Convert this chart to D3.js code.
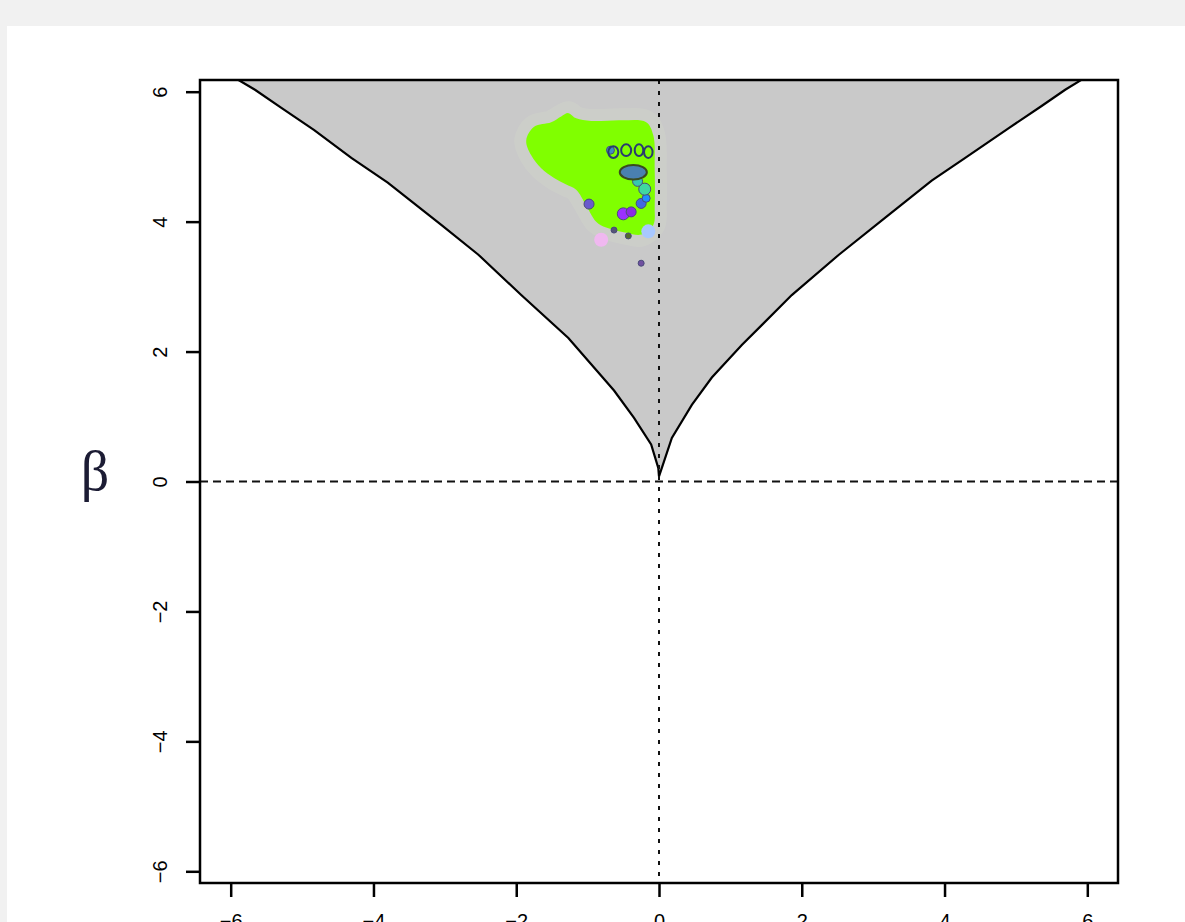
<!DOCTYPE html>
<html>
<head>
<meta charset="utf-8">
<script src="https://cdn.jsdelivr.net/npm/d3@7"></script>
<style>
  body { margin: 0; background: #f1f1f1; }
  svg { display: block; }
</style>
</head>
<body>
<div id="chart"></div>
<script>
// boundary curve of the admissible region (alpha, beta)
const curveAlpha = [-6.2, -5.89, -5.66, -5.29, -4.83, -4.31, -3.80, -3.05, -2.53, -1.93, -1.27, -0.63, -0.35, -0.11, -0.01, 0,
                    0.04, 0.18, 0.46, 0.74, 1.16, 1.86, 2.52, 3.17, 3.82, 4.29, 4.90, 5.36, 5.69, 5.90, 6.2];
const curveBeta  = [6.4, 6.18, 6.03, 5.75, 5.41, 4.98, 4.60, 3.95, 3.49, 2.87, 2.21, 1.40, 0.98, 0.57, 0.21, 0.08,
                    0.21, 0.67, 1.18, 1.60, 2.10, 2.87, 3.49, 4.06, 4.63, 4.98, 5.44, 5.78, 6.03, 6.17, 6.4];

// outline of the dense green sample cloud
const blobAlpha = [-1.75, -1.51, -1.37, -1.27, -1.16, -0.95, -0.53, -0.18, -0.08, -0.06, -0.06, -0.08, -0.25, -0.46, -0.74, -0.88, -1.02, -1.16, -1.30, -1.47, -1.65, -1.79, -1.86];
const blobBeta  = [5.46, 5.53, 5.62, 5.67, 5.59, 5.55, 5.56, 5.53, 5.33, 4.79, 4.25, 3.95, 3.80, 3.83, 3.91, 4.00, 4.25, 4.49, 4.57, 4.67, 4.82, 5.02, 5.25];

// individual coloured samples
const ptAlpha = [-0.98, -0.50, -0.39, -0.25, -0.18, -0.63, -0.43, -0.15, -0.81, -0.25, -0.68, -0.20, -0.30];
const ptBeta  = [4.27, 4.12, 4.15, 4.28, 4.36, 3.87, 3.78, 3.85, 3.72, 3.36, 5.10, 4.50, 4.62];
const ptColor = ["#6a5acd", "#9b30ff", "#8a2be2", "#4169e1", "#1e90ff", "#555577", "#556b2f", "#a8c8ff", "#f0b8f0", "#7050a0", "#3f8fbf", "#40d8a0", "#38c8b0"];
const ptSize  = [5, 6, 5, 5, 4, 3, 3, 7, 7, 3, 4, 6, 5];

// small contour rings
const ringAlpha = [-0.36, -0.64, -0.46, -0.28, -0.15];
const ringBeta  = [4.76, 5.07, 5.10, 5.10, 5.07];
const ringRx    = [0.19, 0.07, 0.07, 0.06, 0.06];
const ringRy    = [0.11, 0.09, 0.09, 0.09, 0.09];

const xTicks = [-6, -4, -2, 0, 2, 4, 6];
const yTicks = [-6, -4, -2, 0, 2, 4, 6];

const width = 1185, height = 922;
const plot = { left: 200, right: 1118, top: 80, bottom: 883 };

const x = d3.scaleLinear().domain([-6.43, 6.43]).range([plot.left, plot.right]);
const y = d3.scaleLinear().domain([-6.18, 6.18]).range([plot.bottom, plot.top]);

const svg = d3.select("#chart").append("svg")
    .attr("width", width)
    .attr("height", height);

svg.append("rect")
    .attr("x", 7).attr("y", 26)
    .attr("width", width - 7).attr("height", height - 26)
    .attr("fill", "#fff");

svg.append("clipPath").attr("id", "clip")
  .append("rect")
    .attr("x", plot.left).attr("y", plot.top)
    .attr("width", plot.right - plot.left).attr("height", plot.bottom - plot.top);

const g = svg.append("g").attr("clip-path", "url(#clip)");

const curve = curveAlpha.map((a, i) => ({ a, b: curveBeta[i] }));

// grey region above the boundary
g.append("path")
    .datum(curve)
    .attr("fill", "#c9c9c9")
    .attr("d", d3.area().x(d => x(d.a)).y0(y(6.4)).y1(d => y(d.b)));

// faint halo round the cloud
const blob = blobAlpha.map((a, i) => [x(a), y(blobBeta[i])]);
g.append("path")
    .datum(blob)
    .attr("fill", "#d6dccb")
    .attr("stroke", "#d6dccb")
    .attr("stroke-width", 24)
    .attr("stroke-linejoin", "round")
    .attr("opacity", 0.3)
    .attr("d", d3.line().curve(d3.curveCatmullRomClosed));

g.append("path")
    .datum(blob)
    .attr("fill", "#80ff00")
    .attr("d", d3.line().curve(d3.curveCatmullRomClosed));

// coloured samples
g.append("g")
  .selectAll("circle")
  .data(ptAlpha.map((a, i) => ({ a, b: ptBeta[i], c: ptColor[i], r: ptSize[i] })))
  .join("circle")
    .attr("cx", d => x(d.a))
    .attr("cy", d => y(d.b))
    .attr("r", d => d.r)
    .attr("fill", d => d.c)
    .attr("stroke", d => d.r <= 6 ? "#4a4a7a" : "none")
    .attr("stroke-width", 1);

// contour rings
g.append("g")
  .selectAll("ellipse")
  .data(ringAlpha.map((a, i) => ({ a, b: ringBeta[i], rx: ringRx[i], ry: ringRy[i] })))
  .join("ellipse")
    .attr("cx", d => x(d.a))
    .attr("cy", d => y(d.b))
    .attr("rx", d => x(d.rx) - x(0))
    .attr("ry", d => y(0) - y(d.ry))
    .attr("fill", (d, i) => i === 0 ? "#4a80b0" : "none")
    .attr("stroke", (d, i) => i === 0 ? "#3a4a20" : "#2a3a70")
    .attr("stroke-width", 2);

// boundary line
g.append("path")
    .datum(curve)
    .attr("fill", "none")
    .attr("stroke", "#000")
    .attr("stroke-width", 2.2)
    .attr("d", d3.line().x(d => x(d.a)).y(d => y(d.b)));

// reference lines
g.append("line")
    .attr("x1", plot.left).attr("x2", plot.right)
    .attr("y1", y(0)).attr("y2", y(0))
    .attr("stroke", "#111").attr("stroke-width", 2)
    .attr("stroke-dasharray", "8,5");
g.append("line")
    .attr("x1", x(0)).attr("x2", x(0))
    .attr("y1", plot.top).attr("y2", plot.bottom)
    .attr("stroke", "#111").attr("stroke-width", 2)
    .attr("stroke-dasharray", "4,7");

// box
svg.append("rect")
    .attr("x", plot.left).attr("y", plot.top)
    .attr("width", plot.right - plot.left).attr("height", plot.bottom - plot.top)
    .attr("fill", "none").attr("stroke", "#000").attr("stroke-width", 2.5);

// axes
const yAxis = svg.append("g")
    .attr("transform", `translate(${plot.left},0)`)
    .call(d3.axisLeft(y).tickValues(yTicks).tickSize(14).tickPadding(0).tickFormat(d3.format("d")))
    .call(g => g.select(".domain").remove());
yAxis.selectAll(".tick line").attr("stroke", "#000").attr("stroke-width", 2.5);
yAxis.selectAll(".tick text")
    .attr("x", null).attr("dy", null)
    .attr("transform", "translate(-40,0) rotate(-90)")
    .attr("text-anchor", "middle")
    .attr("dominant-baseline", "central")
    .attr("font-family", "Liberation Sans, Arial, sans-serif")
    .attr("font-size", 20)
    .attr("fill", "#000");

const xAxis = svg.append("g")
    .attr("transform", `translate(0,${plot.bottom})`)
    .call(d3.axisBottom(x).tickValues(xTicks).tickSize(14).tickFormat(d3.format("d")))
    .call(g => g.select(".domain").remove());
xAxis.selectAll(".tick line").attr("stroke", "#000").attr("stroke-width", 2.5);
xAxis.selectAll(".tick text")
    .attr("y", 31).attr("dy", null)
    .attr("dominant-baseline", "hanging")
    .attr("font-family", "Liberation Sans, Arial, sans-serif")
    .attr("font-size", 20)
    .attr("fill", "#000");

// axis title
svg.append("text")
    .attr("x", 95).attr("y", 490)
    .attr("text-anchor", "middle")
    .attr("font-family", "Liberation Serif, Times New Roman, serif")
    .attr("font-size", 56)
    .attr("fill", "#1c1c34")
    .text("β");
</script>
</body>
</html>
